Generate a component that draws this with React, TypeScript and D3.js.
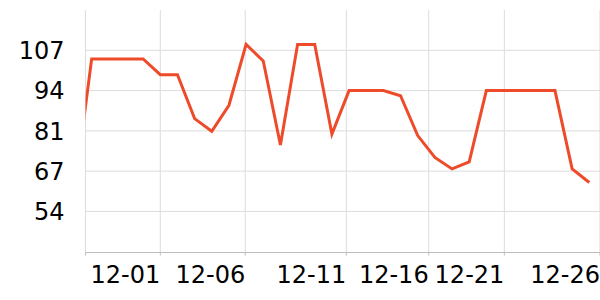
import React from "react";
import * as d3 from "d3";

// 31 daily values (first one partly clipped at the plot's left edge)
const dates = [
  "11-26","11-27","11-28","11-29","11-30","12-01","12-02","12-03","12-04","12-05",
  "12-06","12-07","12-08","12-09","12-10","12-11","12-12","12-13","12-14","12-15",
  "12-16","12-17","12-18","12-19","12-20","12-21","12-22","12-23","12-24","12-25","12-26",
];
const values = [
  60.5, 104.3, 104.3, 104.3, 104.3, 99.1, 99.1, 84.6, 80.4, 89.0,
  109.1, 103.6, 75.9, 109.1, 109.1, 79.5, 93.85, 93.85, 93.85, 92.15,
  79.0, 71.8, 68.0, 70.3, 93.85, 93.85, 93.85, 93.85, 93.85, 68.0, 63.5,
];

// x tick positions (in point-index units) and labels
const xTickPos = [5, 9.95, 15.84, 20.64, 25.05, 30.62];
const xTickLabels = ["12-01", "12-06", "12-11", "12-16", "12-21", "12-26"];
// y tick values
const yTicks = [53.95, 67.25, 80.55, 93.85, 107.15];

const W = 600, H = 300;
const plotLeft = 85.5, plotRight = 600, plotTop = 10, plotBottom = 252.5;

export default function App() {
  const x = d3.scaleLinear().domain([0, dates.length - 1]).range([74.5, 589.3]);
  const y = d3.scaleLinear().domain([40.4, 120.45]).range([plotBottom, plotTop]);
  const fmt = d3.format(".0f");
  const line = d3
    .line<number>()
    .x((_, i) => x(i))
    .y((d) => y(d));
  const font = "'DejaVu Sans', sans-serif";
  const gridX = [plotLeft, ...xTickPos.map((t) => x(t))];

  return (
    <svg
      width={W}
      height={H}
      style={{ position: "absolute", left: 0, top: 0, background: "#fff" }}
    >
      <defs>
        <clipPath id="plotclip">
          <rect x={plotLeft} y={plotTop - 5} width={plotRight - plotLeft} height={plotBottom - plotTop + 5} />
        </clipPath>
      </defs>
      {/* horizontal grid */}
      {yTicks.map((t, i) => (
        <line key={"gy" + i} x1={plotLeft} x2={plotRight} y1={y(t)} y2={y(t)} stroke="#dcdcdc" strokeWidth={1} />
      ))}
      {/* vertical grid */}
      {gridX.map((gx, i) => (
        <line key={"gx" + i} x1={gx} x2={gx} y1={plotTop} y2={plotBottom} stroke="#dcdcdc" strokeWidth={1} />
      ))}
      {/* bottom axis */}
      <line x1={plotLeft} x2={plotRight} y1={plotBottom} y2={plotBottom} stroke="#bdbdbd" strokeWidth={1} />
      {gridX.map((gx, i) => (
        <line key={"tk" + i} x1={gx} x2={gx} y1={plotBottom} y2={plotBottom + 3} stroke="#bdbdbd" strokeWidth={1} />
      ))}
      {/* y labels */}
      {yTicks.map((t, i) => (
        <text key={"yl" + i} x={64.5} y={y(t) + 8.7} textAnchor="end" fontFamily={font} fontSize={24} fill="#000">
          {fmt(t)}
        </text>
      ))}
      {/* x labels */}
      {xTickPos.map((t, i) => (
        <text key={"xl" + i} x={Math.min(x(t), 600)} y={282.5} textAnchor="end" fontFamily={font} fontSize={24} fill="#000">
          {xTickLabels[i]}
        </text>
      ))}
      {/* series line */}
      <g clipPath="url(#plotclip)">
        <path d={line(values) || ""} fill="none" stroke="#ee4b2b" strokeWidth={3} strokeLinejoin="miter" />
      </g>
    </svg>
  );
}
